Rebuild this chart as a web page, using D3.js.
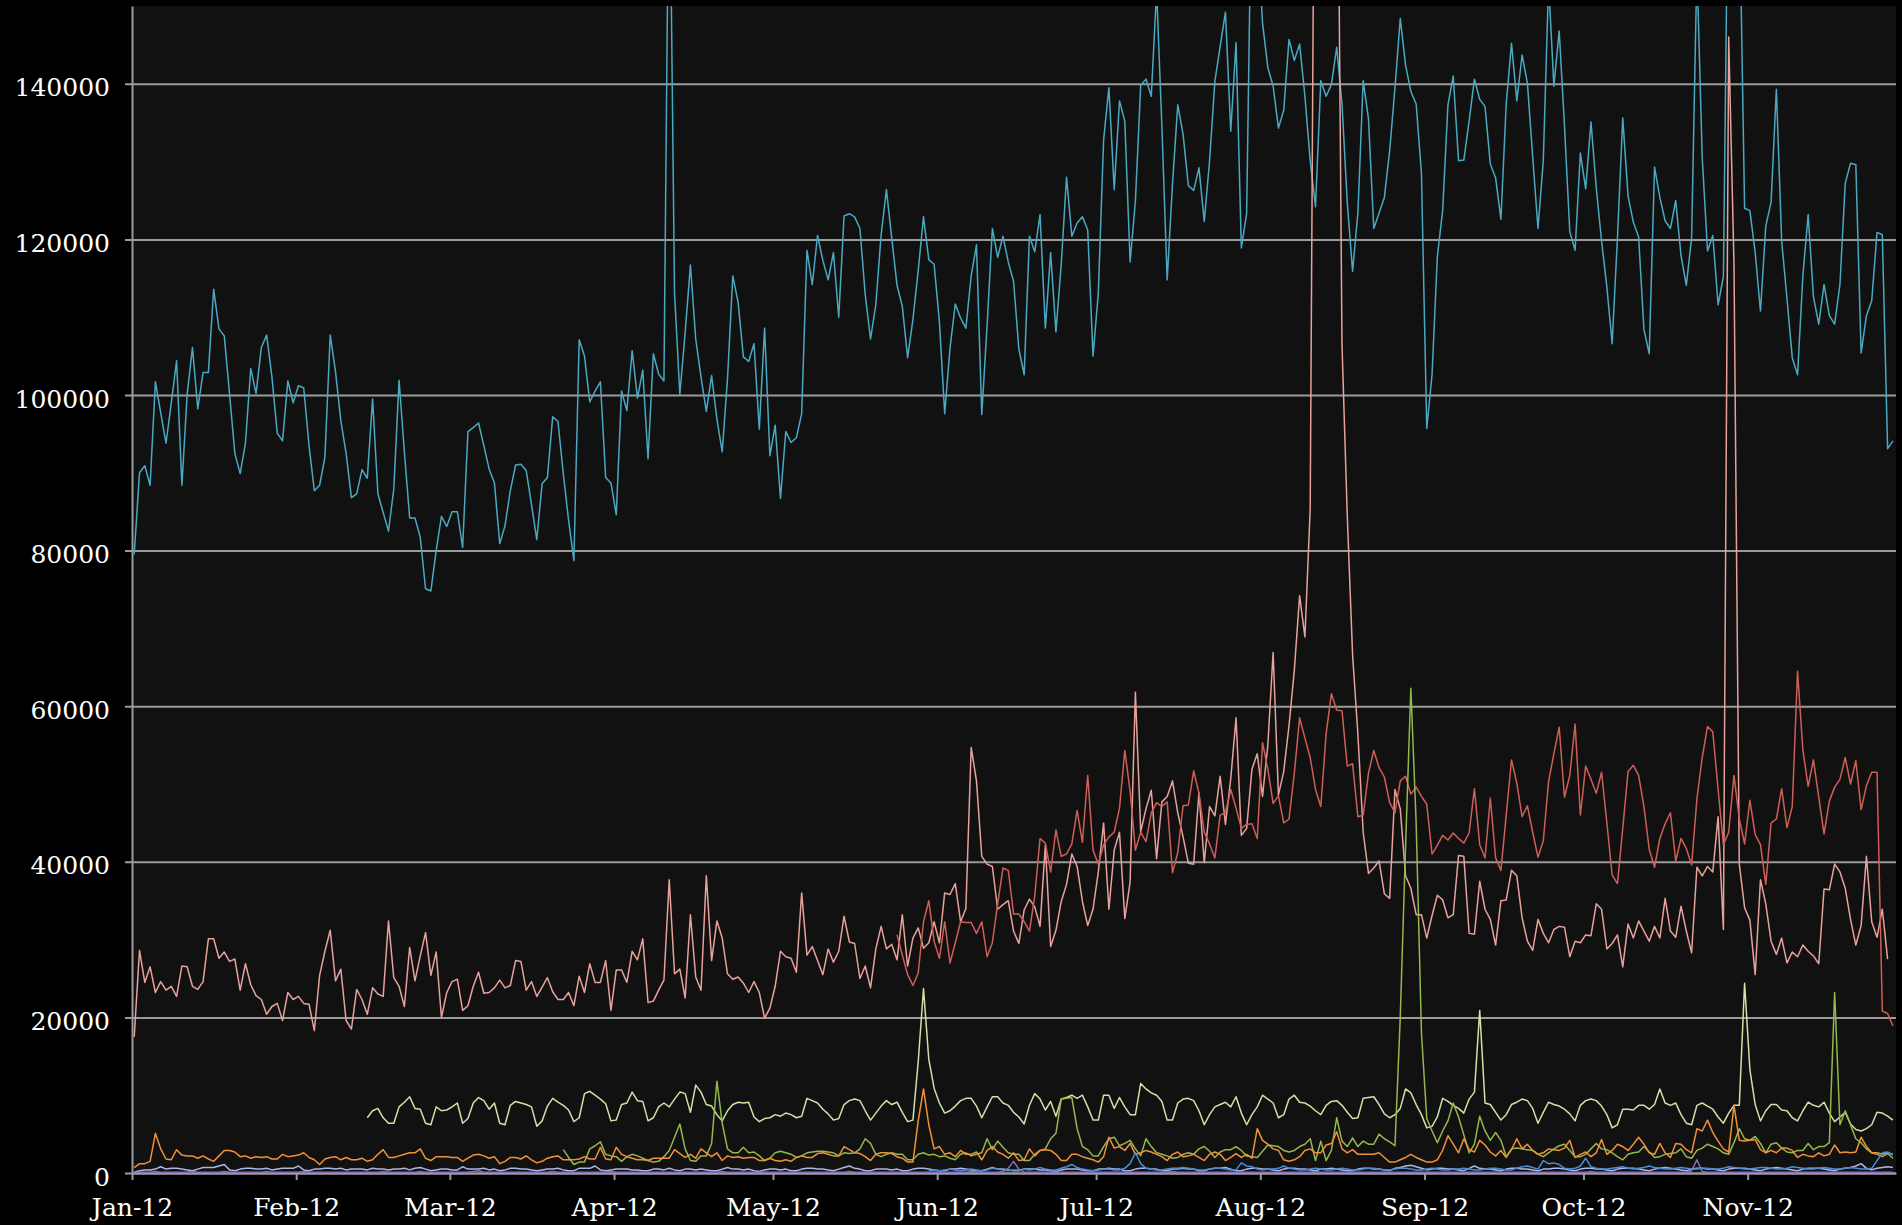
<!DOCTYPE html>
<html><head><meta charset="utf-8">
<script src="https://cdn.jsdelivr.net/npm/d3@7"></script>
<style>
html,body{margin:0;padding:0;background:#000;}
svg{display:block;}
</style></head><body>
<svg id="chart" width="1902" height="1225"></svg>
<script>
// ---------------- DATA ----------------
const startDate = "2012-01-01";
const endDate = "2012-11-29";
const yTicks = [0, 20000, 40000, 60000, 80000, 100000, 120000, 140000];
const yMax = 150000;

// Series A (teal) – starts 2012-01-01
const seriesAStart = 0;
const seriesA = [
79500,90000,90900,88400,101700,97700,93800,99000,104400,88400,
100100,106100,98200,102900,102900,113600,108500,107600,100100,92500,
89900,93800,103400,100200,106100,107700,102300,95100,94100,101800,
99000,101200,100900,93500,87700,88400,92000,107700,103000,96700,
92500,86800,87300,90400,89300,99500,87300,84900,82500,87900,
101900,92700,84200,84200,81700,75100,74800,80000,84400,83100,
85000,85000,80400,95300,95800,96400,93500,90500,88700,80900,
83200,87700,91000,91100,90300,85900,81400,88600,89400,97200,
96600,89900,83900,78700,107100,105000,99100,100500,101700,89400,
88700,84600,100500,98000,105700,99600,103200,91800,105300,102700,
101800,175000,113100,100100,108000,116700,107200,102300,97900,102500,
96900,92700,102100,115300,111900,104900,104300,106600,95600,108600,
92200,96100,86700,95300,93900,94500,97600,118600,114200,120500,
117300,114800,118300,110000,123000,123300,122900,121400,112900,107200,
111600,120600,126400,120200,114100,111400,104800,109700,116000,122900,
117400,116800,109400,97600,106000,111700,109900,108600,115300,119300,
97500,108900,121400,117700,120400,117100,114600,105900,102600,120400,
118400,123200,108600,118300,108100,116800,128000,120400,122100,122900,
121200,105000,113100,132800,139500,126400,137800,135200,117100,124900,
139800,140600,138400,152000,134500,114800,127100,137300,133500,126900,
126300,129200,122300,130100,140300,144800,149200,133900,145300,118900,
123300,170000,160000,147800,142100,139700,134300,136600,145700,143000,
145100,138400,130100,124200,140400,138400,139900,144700,137400,124700,
115900,123400,140400,135500,121400,123400,125400,131400,139500,148400,
142400,139000,137400,128500,95700,102600,117800,123700,137300,141000,
130100,130200,135200,140600,138000,137100,129700,127900,122600,137400,
145200,137800,143700,140100,130600,121400,130100,153000,139700,146800,
134600,121000,118600,131100,126500,135100,126600,119800,113900,106600,
120200,135600,125600,122200,120300,108400,105300,129300,125400,122400,
121400,125000,117900,114100,120200,155000,130600,118500,120500,111600,
115200,175000,190000,165000,124000,123700,118300,110800,121700,124800,
139300,119800,112400,104800,102600,115300,123200,112600,109100,114200,
110200,109100,114200,127200,129800,129600,105400,110200,112100,120900,
120600,93100,94100
];

// Series B (light pink) – starts 2012-01-01
const seriesBStart = 0;
const seriesB = [
17500,28600,24500,26500,23200,24600,23500,24000,22700,26600,
26500,24000,23600,24600,30100,30100,27600,28400,27200,27500,
23500,26900,24200,22800,22300,20400,21400,21800,19600,23200,
22300,22700,21800,21700,18300,25400,28500,31200,24700,26200,
19600,18500,23600,22300,20400,23800,23000,22700,32400,25100,
24000,21400,29000,24700,27900,30900,25400,28400,20000,23200,
24600,24900,20900,21500,24000,25800,23100,23200,23800,24800,
23800,24100,27300,27200,23500,24600,22700,23900,25100,23300,
22300,22300,23200,21500,25300,23200,26900,24500,24500,27300,
20900,26100,26100,24500,28500,27400,30100,21900,22100,23500,
24800,37700,25600,26200,22500,33200,25200,23500,38200,27300,
32400,30200,25600,24900,25200,24400,23200,24600,23200,19900,
21200,24000,28500,27800,27600,25800,36000,28000,29100,27300,
25500,28800,27100,28500,33000,29700,29500,25000,26600,23800,
28800,31700,28800,29400,27400,33200,26600,30200,31500,28900,
29600,32300,29600,36000,35800,37200,32300,34000,54700,50400,
40700,39700,39400,33900,34500,35000,31100,29500,33800,35200,
34200,31700,42200,29100,31200,34900,37100,41000,39400,34900,
31800,33900,38700,45000,33900,41500,43800,32700,37400,61800,
43900,46800,49200,40400,47700,48400,50400,46300,43200,39800,
39700,48900,39900,47100,45900,51000,44800,50700,58500,43400,
44300,51900,53900,48400,55000,66900,48600,51600,57500,64600,
74200,68900,85400,200000,240000,260000,230000,190000,106500,84400,
66600,56400,43800,38500,39200,40100,35900,35300,49300,46800,
38200,36600,33200,33200,30200,33100,35700,35100,32800,33200,
40800,40700,30800,30700,37500,33900,32600,29300,35000,35100,
38900,38200,32800,29800,28600,32600,30800,29600,31300,31700,
31600,27800,29800,29600,30600,30500,34600,33900,28800,29500,
30600,26500,32000,30200,32400,31100,29800,31700,30200,35300,
31100,30300,34300,31100,28300,39300,38200,39400,38700,45800,
31300,146000,116800,39700,34100,32500,25500,37700,34600,29800,
28100,30200,27000,28400,27800,29300,28500,27900,26900,36500,
36400,39700,38700,36600,32600,29300,31800,40700,32300,30300,
33900,27500
];

// Series C (coral red) – starts 2012-05-24
const seriesCStart = 144;
const seriesC = [
30600,28000,25500,24100,25700,32300,
35000,29800,27600,32300,27000,29600,32300,32200,32200,30800,
32300,27800,29600,34600,39200,38900,33300,33300,32300,31100,
35600,43000,42400,38700,44100,40700,41000,42300,46600,42500,
51100,41500,39700,42200,43200,43800,46900,54300,49100,41500,
43800,42600,46300,47600,47100,47700,38600,41200,47200,47300,
51700,48800,43800,42300,40500,46000,46300,49300,46900,44300,
44800,44900,43000,55300,51900,47500,48500,45000,45500,51400,
58500,55900,53400,49300,47100,56400,61600,59500,59400,52300,
52600,45800,46000,51400,54300,52100,50900,47600,46300,50400,
51000,48700,49600,48400,47400,41000,42100,43400,42800,43700,
43000,42400,43700,49400,42200,40500,48200,40500,38900,46000,
53100,50100,45800,47200,43800,40600,42700,50300,53900,57300,
48300,51100,57700,46000,52300,50600,48800,51500,45000,38300,
37200,44300,51600,52400,51100,47100,41600,39300,43000,44900,
46300,40100,43000,41700,39600,48100,53400,57400,56700,49300,
42200,43800,51100,45500,42300,47900,43500,42200,37100,45000,
45500,49400,44400,47100,64500,54400,49700,53100,48300,43600,
47800,49600,50600,53400,50000,53000,46700,49800,51500,51500,
20800,20500,18900
];

// Series D (pale yellow-green) – starts 2012-02-14
const seriesDStart = 44;
const seriesD = [
7100,8000,8300,7100,6400,6400,
8500,9100,9800,8300,8200,6400,6200,8500,8000,8100,
8500,9000,6400,7000,9000,9700,9300,8200,9000,6400,
6200,8700,9200,9000,8800,8500,6000,6700,8600,9600,
9100,8700,8100,6600,7100,10200,10500,10000,9500,8900,
6700,6800,8800,9000,10400,9300,9200,6700,7100,8500,
9000,8500,9500,10400,10200,7800,11300,10400,8800,8600,
7500,6700,8000,8800,9100,9000,9100,7200,6600,7000,
7100,7500,7300,7700,7500,7100,7300,9600,9300,9000,
8200,7600,6800,7000,8800,9300,9500,9300,8000,6800,
7700,8600,9300,8800,9100,7800,6600,6800,14300,23700,
14600,10900,9000,7700,8000,8600,9300,9600,9600,8600,
7100,8500,9800,9800,9000,8700,7800,7200,6300,8700,
10200,9500,8100,9200,7300,9500,9700,10000,9600,10000,
8500,6800,6800,10000,10000,8300,9700,8500,7500,7500,
11500,10800,10300,10000,9200,6800,6800,9000,9500,9600,
9300,8000,6200,7500,8500,8800,9100,8500,9800,7700,
6200,7500,8500,10000,9500,9000,7100,7500,9500,10000,
9100,9000,8600,8000,7500,8700,9200,9300,8700,7800,
7000,7100,9600,9700,9800,8800,7600,7100,7500,8300,
10800,10300,8800,7500,5800,6000,7200,9600,9200,8700,
8300,7700,9500,10400,20900,9000,8800,7800,6800,7500,
8800,9100,9500,9300,8300,6400,7800,9100,8800,8600,
8200,7600,6700,8700,9300,9500,9300,8600,7500,5800,
6200,8200,8200,8100,8700,8700,8200,8800,10800,9000,
8700,9000,7500,6400,6200,8700,9000,8600,8200,7200,
6400,7700,8700,8700,24400,13300,8800,6700,8000,8800,
8800,8100,8000,7100,6700,8000,9100,8700,8500,9100,
7700,6600,7200,7800,6300,5600,5400,5700,6200,7800,
7700,7300,6800
];

// Series E (green) – starts 2012-03-22
const seriesEStart = 81;
const seriesE = [
3000,2000,1100,1400,1400,3100,3500,4000,2400,
2200,2100,1500,2100,2400,2200,1900,1600,1400,1500,
2100,2900,4600,6300,3100,1600,1500,2200,2200,3800,
11800,6400,3100,2600,2600,3300,2600,2700,2200,1600,
1900,2600,2800,2600,2400,2000,2200,2600,2700,2800,
2800,2700,2600,2200,2600,2500,2600,3100,4400,3800,
2400,2100,2400,2600,2400,2400,1700,1700,2400,2600,
2300,2400,2100,2200,1900,1700,2400,2600,2200,2400,
2600,4400,3000,4100,3300,2600,2400,2400,1600,1600,
2400,2900,3100,4400,5100,9500,9600,9700,5700,3400,
3000,2200,2200,3400,4400,4600,3500,3800,4200,3100,
2200,4400,3400,2600,2400,2200,1900,2000,2400,2600,
2400,3100,3400,2800,2000,2700,3000,3000,3400,2900,
2200,2100,2000,2800,3600,3500,3400,2900,2700,2900,
3400,3700,4400,1600,4100,1600,2900,7100,4100,3400,
4500,3400,4100,3700,3700,5000,4400,4000,3500,20000,
42000,62300,45000,18000,7000,5400,3900,5400,6700,9000,
7200,4900,2600,3700,7300,5400,4200,5200,4200,2100,
3100,3200,3100,3000,2900,2400,2100,2600,3100,3500,
3700,2900,2100,2100,2400,3100,3800,3100,3000,2600,
2100,1700,2400,2600,2700,3400,2700,2000,2100,2400,
2500,2600,3100,2100,1900,2900,3200,3700,3400,3100,
2600,2400,3900,5700,4400,4200,4700,3800,2600,3700,
3900,3200,2700,2600,2900,2900,3800,3000,3400,3400,
3900,23200,6200,8000,6200,4400,3900,3100,2600,2400,
2100,2500,1900
];

// Series F (orange) – starts 2012-01-01
const seriesFStart = 0;
const seriesF = [
700,1200,1200,1500,5100,3100,1800,1700,3000,2300,
2200,2200,1900,2200,1800,1500,2200,2900,2900,2700,
2100,2200,1900,2100,2000,2100,1800,1800,2400,2100,
2200,2300,2600,2000,1700,1100,1800,2000,2100,1700,
2000,1700,1700,1900,1500,1700,2400,3000,2000,2000,
2200,2400,2600,2600,3100,1900,1600,2100,2100,2100,
2000,2000,1500,1900,2300,2400,2200,1900,2100,1200,
1500,2000,2000,1800,2200,1700,1300,1500,1900,2100,
2200,1700,1700,1700,1800,2100,1800,1800,3300,1800,
1700,3300,2400,2100,1900,1700,1700,1600,1900,1900,
1900,1900,3000,2500,2000,2400,1900,3100,2600,2100,
2600,1600,2200,2000,2100,1900,2000,2000,1600,1600,
1900,1600,1500,1700,1500,2000,2200,2000,2000,2500,
2600,2400,2200,2200,3400,3000,2600,2500,2100,1600,
2400,2600,2600,2500,2100,1900,1400,1400,6700,10800,
6200,3100,3400,2400,2600,2100,2900,2400,2400,2700,
1700,2900,3400,2700,2400,1900,2600,1600,1700,3100,
2200,2900,3000,2900,2400,1600,1600,2400,2400,2100,
1900,1700,1400,2100,4600,3200,3400,2900,3800,2400,
2600,2900,2700,2400,2100,1600,2400,2700,2100,2200,
2400,2000,1600,2400,2700,2400,1600,2000,2500,2000,
2400,1900,5700,4200,3700,3100,2900,1700,1500,1700,
2100,2900,3100,2600,2600,3600,3800,5300,3100,2600,
3000,2400,2400,2400,2400,2600,2000,1400,1400,1700,
2000,2400,2000,1700,1400,1400,1700,2900,4800,3700,
2600,4400,3000,2700,4200,3600,2700,2200,2900,2000,
3000,4400,3100,3700,2900,2400,2600,3100,3000,2900,
3200,4200,2000,2400,2700,2100,2600,4300,2400,2900,
3700,3400,2900,3700,4600,3700,2600,2400,3800,2600,
2000,3800,3700,3000,2600,5700,5400,6800,5200,4100,
3100,2700,8700,4200,4100,4200,4300,3000,2600,2900,
2600,3200,3200,2900,2000,2400,2200,2100,2600,2200,
2400,3600,2600,2700,2600,2700,4600,3400,2600,2600,
2400,2600,2400
];

// Series G (lavender) – starts 2012-01-01
const seriesGStart = 0;
const seriesG = [
100,300,400,400,500,800,500, 600,600,500,400,300,500,700,
700,700,900,1100,400,300,500, 600,600,500,500,600,400,500,
600,600,600,900,400,300,500, 500,600,600,500,600,400,500,
500,500,400,600,500,500,400, 500,500,600,400,600,700,500,
300,400,500,500,400,400,800, 500,500,500,600,400,500,300,
400,600,600,500,500,400,300, 400,500,500,600,400,300,300,
600,600,600,900,400,300,400, 500,500,500,400,400,300,300,
500,500,400,600,400,300,500, 500,400,500,400,300,300,500,
700,500,500,400,500,300,200, 400,500,500,400,500,300,300,
500,600,600,500,500,400,300, 500,700,900,600,500,300,300,
500,500,500,400,500,300,300, 500,600,600,500,400,300,300,
500,500,600,500,400,300,300, 500,700,500,500,400,300,300,
500,500,500,400,400,300,200, 400,500,500,500,400,300,300,
500,500,600,500,500,300,300, 500,600,600,500,500,300,300,
500,500,600,500,500,300,300, 500,600,600,700,500,300,300,
500,600,600,500,500,400,300, 500,600,600,500,500,400,300,
500,500,600,500,400,300,300, 500,600,600,500,500,400,300,
600,700,900,1000,800,600,400, 500,600,600,500,500,400,300,
600,900,600,500,500,400,300, 500,600,600,500,500,400,300,
500,500,600,600,500,400,300, 500,600,600,500,500,400,300,
500,600,600,600,500,400,300, 500,600,700,600,500,400,300,
500,600,600,500,500,400,300, 500,600,600,600,500,400,300,
500,600,700,600,500,400,300, 500,600,600,600,500,400,300,
500,600,700,900,1200,600,400, 600,700,800,700
];

// Series H (blue) – starts 2012-05-30
const seriesHStart = 150;
const seriesH = [
300,400,300,400,500,400,300, 400,500,400,300,400,600,500,
400,300,400,400,500,400,500, 700,500,400,400,600,800,1100,
700,500,400,300,400,500,500, 400,400,600,1200,2600,1200,600,
500,400,400,500,600,600,700, 600,500,400,400,500,600,600,
500,400,400,1300,900,800,500, 400,500,500,600,900,600,500,
400,400,500,600,500,400,400, 500,600,500,400,400,500,600,
600,500,400,400,500,600,600, 500,400,400,500,600,500,400,
400,500,500,600,500,400,400, 500,600,600,500,400,400,600,
800,900,700,500,1600,1200,1300, 1100,600,500,600,900,1900,800,
600,500,500,600,700,800,600, 500,600,700,900,700,600,500,
500,600,700,600,500,500,600, 600,500,500,600,800,700,600,
500,500,600,700,700,600,500, 500,600,800,700,600,500,500,
600,700,600,500,500,600,700, 600,500,500,600,1600,2600,2700,
2300
];

// Series I (purple) – starts 2012-01-01
const seriesIStart = 0;
const seriesI = [
100,100,100,100,200,100,100,100,100,100,
100,200,100,100,100,100,100,200,100,100,
100,100,100,100,100,200,100,100,100,100,
100,100,200,100,100,100,100,100,100,100,
100,100,100,100,100,100,100,200,100,100,
100,100,100,100,200,100,100,100,100,100,
100,100,100,100,200,300,100,100,100,100,
100,100,100,100,100,100,100,100,100,200,
100,100,100,100,100,100,100,100,100,100,
200,100,100,100,100,100,100,100,100,100,
100,100,100,100,100,100,100,100,100,100,
100,200,100,100,100,100,100,100,100,100,
100,100,100,100,100,100,100,100,100,100,
100,100,100,100,100,200,100,100,100,100,
100,100,100,100,100,100,100,100,100,100,
100,100,100,100,100,100,100,100,200,100,
100,100,100,100,200,600,1500,500,100,100,
100,100,100,100,100,100,100,100,100,100,
100,100,100,100,100,100,100,100,100,100,
100,100,100,100,100,100,200,100,100,100,
100,100,100,100,100,100,100,100,100,100,
100,100,100,100,100,100,100,100,100,100,
100,100,100,200,100,100,100,100,100,100,
100,100,100,100,100,100,100,100,100,100,
100,100,100,100,100,100,100,100,100,100,
100,100,100,100,100,100,100,100,100,100,
100,100,100,100,100,100,100,100,100,100,
100,100,100,100,100,200,100,100,100,100,
100,100,100,100,100,100,100,100,100,100,
100,100,100,100,300,1700,200,100,100,100,
100,100,100,100,100,100,100,100,100,100,
100,100,100,100,100,100,100,100,100,100,
100,100,100,100,100,100,100,100,100,100,
100,100,100
];

// ---------------- CHART ----------------
const W = 1902, H = 1225;
const margin = {top: 6, right: 6, bottom: 52, left: 132};
const parse = d3.timeParse("%Y-%m-%d");
const t0 = parse(startDate), t1 = parse(endDate);

const x = d3.scaleTime().domain([t0, t1]).range([margin.left, W - margin.right]);
const y = d3.scaleLinear().domain([0, yMax]).range([H - margin.bottom, margin.top]);

const series = [
  {name: "A", start: seriesAStart, values: seriesA, color: "#4aa9c2"},
  {name: "B", start: seriesBStart, values: seriesB, color: "#e8a29c"},
  {name: "C", start: seriesCStart, values: seriesC, color: "#cf5f56"},
  {name: "D", start: seriesDStart, values: seriesD, color: "#d3e0a6"},
  {name: "E", start: seriesEStart, values: seriesE, color: "#94b84c"},
  {name: "F", start: seriesFStart, values: seriesF, color: "#f0913a"},
  {name: "G", start: seriesGStart, values: seriesG, color: "#a7b9e6"},
  {name: "H", start: seriesHStart, values: seriesH, color: "#4b8cd2"},
  {name: "I", start: seriesIStart, values: seriesI, color: "#8c6ebe"}
];
series.forEach(s => {
  s.points = s.values.map((v, i) => ({
    date: d3.timeHour.offset(d3.timeDay.offset(t0, s.start + i), 10),
    value: v
  }));
});

const svg = d3.select("#chart");
svg.append("rect").attr("x", 0).attr("y", 0).attr("width", W).attr("height", H).attr("fill", "#000");
svg.append("rect")
  .attr("x", margin.left).attr("y", margin.top)
  .attr("width", W - margin.left - margin.right)
  .attr("height", H - margin.top - margin.bottom)
  .attr("fill", "#111");

svg.append("defs").append("clipPath").attr("id", "plotclip")
  .append("rect")
  .attr("x", margin.left).attr("y", margin.top)
  .attr("width", W - margin.left - margin.right)
  .attr("height", H - margin.top - margin.bottom);

const gridColor = "#9b9b9b";

// y axis with gridlines
const yAxis = d3.axisLeft(y).tickValues(yTicks)
  .tickSize(-(W - margin.left - margin.right))
  .tickSizeOuter(0)
  .tickPadding(22)
  .tickFormat(d3.format("d"));
const gy = svg.append("g").attr("transform", `translate(${margin.left},0)`).call(yAxis);
gy.select(".domain").attr("stroke", gridColor).attr("stroke-width", 2);
gy.selectAll(".tick line").attr("stroke", gridColor).attr("stroke-width", 2).attr("x1", -7);
gy.selectAll(".tick text")
  .attr("fill", "#fff")
  .attr("font-family", "'DejaVu Serif', serif")
  .attr("font-size", 25)
  .attr("dy", "0.48em");

// x axis
const xAxis = d3.axisBottom(x).ticks(d3.timeMonth.every(1))
  .tickFormat(d3.timeFormat("%b-%y"))
  .tickSize(7).tickSizeOuter(0).tickPadding(18);
const gx = svg.append("g").attr("transform", `translate(0,${H - margin.bottom})`).call(xAxis);
gx.select(".domain").attr("stroke", gridColor).attr("stroke-width", 2);
gx.selectAll(".tick line").attr("stroke", gridColor).attr("stroke-width", 2);
gx.selectAll(".tick text")
  .attr("fill", "#fff")
  .attr("font-family", "'DejaVu Serif', serif")
  .attr("font-size", 25);

// lines
const line = d3.line().x(d => x(d.date)).y(d => y(d.value));
const gl = svg.append("g").attr("clip-path", "url(#plotclip)");
gl.selectAll("path.series").data(series).join("path")
  .attr("class", "series")
  .attr("fill", "none")
  .attr("stroke", d => d.color)
  .attr("stroke-width", 1.5)
  .attr("stroke-linejoin", "round")
  .attr("d", d => line(d.points));
</script>
</body></html>
